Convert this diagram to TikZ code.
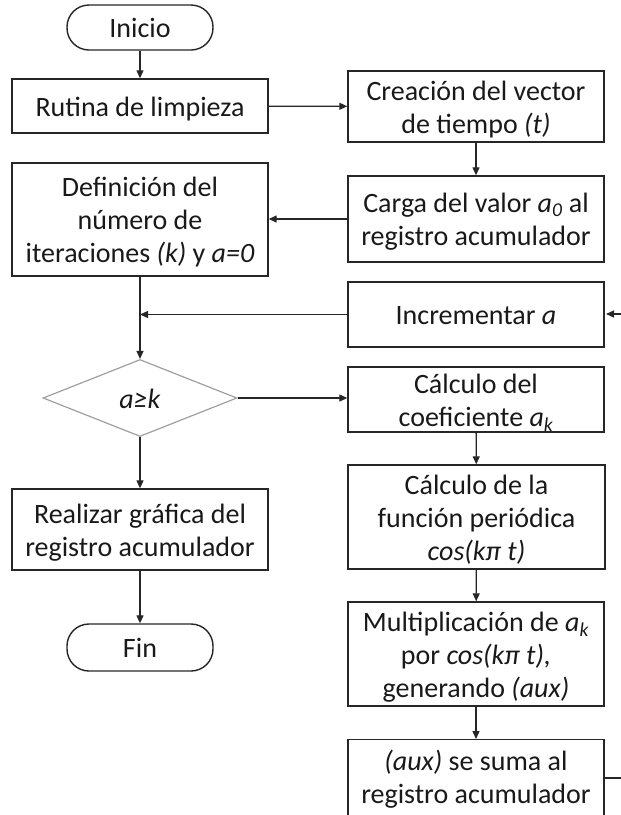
\documentclass[tikz,border=0pt]{standalone}
\usepackage{fontspec}
\setmainfont{Carlito}
\usetikzlibrary{arrows.meta,shapes.geometric}
\newcommand\lst{\rule[-6pt]{0pt}{32pt}}
\begin{document}
\begin{tikzpicture}[x=1pt,y=-1pt,
  every node/.style={font=\fontsize{28}{33}\selectfont, align=center, inner sep=0pt, text=black!90},
  box/.style={draw=black!85, line width=1.4pt, rectangle},
  term/.style={draw=black!85, line width=1.4pt, rectangle, rounded corners=22pt},
  dec/.style={draw=gray!75, line width=1.2pt, diamond, aspect=2.52},
  arr/.style={draw=black!85, line width=1.3pt, -{Triangle[length=8pt,width=7pt]}},
  ln/.style={draw=black!85, line width=1.3pt}]
\useasboundingbox (0,0) rectangle (621,815);
\clip (0,0) rectangle (621,815);
% left column
\node[term, minimum width=146pt, minimum height=45pt] (ini) at (140,27.5) {\lst Inicio};
\node[box, minimum width=256pt, minimum height=54pt] (rut) at (140,106) {\lst Rutina de limpieza};
\node[box, minimum width=256pt, minimum height=113pt] (def) at (140,219.5) {\lst Definición del\\\lst número de\\\lst iteraciones \textit{(k)} y \textit{a=0}};
\node[dec, minimum width=194pt, minimum height=77pt] (dia) at (140,398) {\lst\textit{a≥k}};
\node[box, minimum width=256pt, minimum height=81pt] (rea) at (140,529.5) {\lst Realizar gráfica del\\\lst registro acumulador};
\node[term, minimum width=146pt, minimum height=47pt] (fin) at (140,647.5) {\lst Fin};
% right column
\node[box, minimum width=256pt, minimum height=71pt] (cre) at (476,106.5) {\lst Creación del vector\\\lst de tiempo \textit{(t)}};
\node[box, minimum width=256pt, minimum height=86pt] (car) at (476,219) {\lst Carga del valor \textit{a\textsubscript{0}} al\\\lst registro acumulador};
\node[box, minimum width=256pt, minimum height=65pt] (inc) at (476,314.5) {\lst Incrementar \textit{a}};
\node[box, minimum width=256pt, minimum height=63pt] (coe) at (476,399.5) {\lst Cálculo del\\\lst coeficiente \textit{a\textsubscript{k}}};
\node[box, minimum width=257pt, minimum height=104pt] (fun) at (476.5,517) {\lst Cálculo de la\\\lst función periódica\\\lst\textit{cos(kπ t)}};
\node[box, minimum width=256pt, minimum height=104pt] (mul) at (476,654) {\lst Multiplicación de \textit{a\textsubscript{k}}\\\lst por \textit{cos(kπ t),}\\\lst generando \textit{(aux)}};
\node[box, minimum width=256pt, minimum height=100pt, anchor=north] (sum) at (476,739) {};
\node (sumt) at (476,776.5) {\lst\textit{(aux)} se suma al\\\lst registro acumulador};
% coordinates
\coordinate (j) at (def.south |- inc.west);
\coordinate (inR) at (621,314);
\coordinate (incE) at (606,314);
\coordinate (sumR) at (621,778);
\coordinate (sumE) at (sum.east |- sumR);
% connectors
\draw[arr] (ini) -- (rut);
\draw[arr] (rut) -- (cre);
\draw[arr] (cre) -- (car);
\draw[arr] (car.west) -- (car.west -| def.east);
\draw[arr] (def.south) -- (dia.north);
\draw[arr] (inc.west) -- (j);
\draw[arr] (inR) -- (incE);
\draw[arr] (dia.east) -- (dia.east -| coe.west);
\draw[arr] (dia) -- (rea);
\draw[arr] (rea) -- (fin);
\draw[arr] (coe) -- (fun);
\draw[arr] (fun) -- (mul);
\draw[arr] (mul) -- (sum);
\draw[ln] (sumE) -- (sumR);
\end{tikzpicture}
\end{document}
